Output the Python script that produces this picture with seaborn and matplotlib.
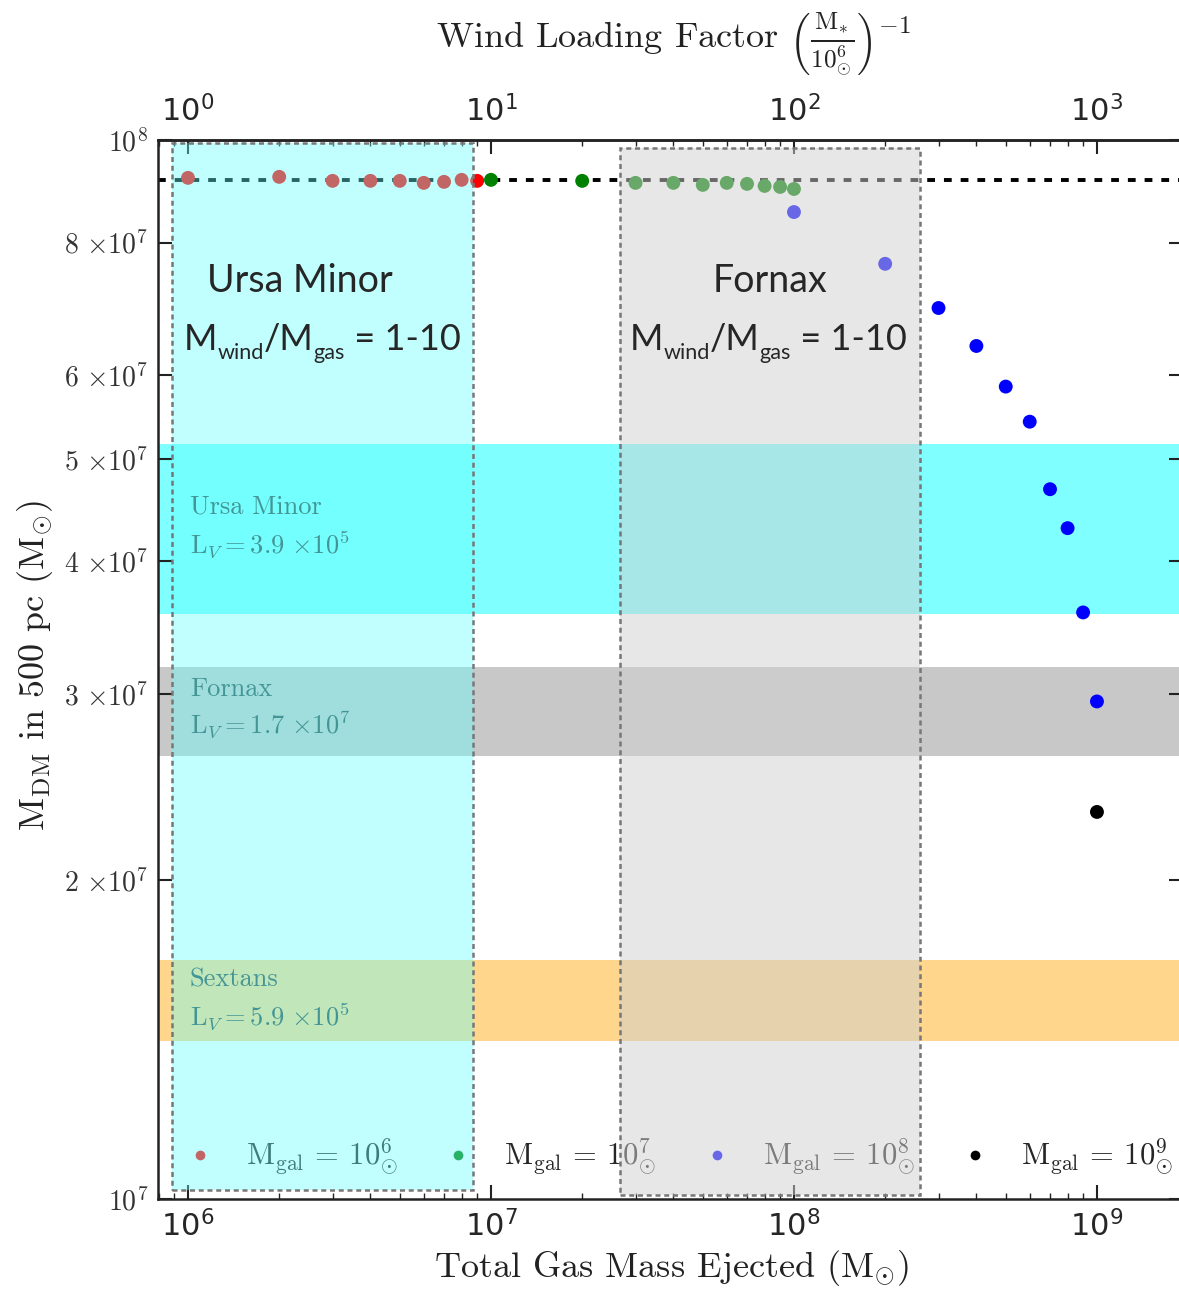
import numpy as np
import pandas as pd
import seaborn as sns
import matplotlib
matplotlib.use("Agg")
import matplotlib.pyplot as plt
from matplotlib.patches import Rectangle
from matplotlib.lines import Line2D
from matplotlib.ticker import LogLocator, NullLocator, NullFormatter

# ---- data -------------------------------------------------------------
# total gas mass ejected (Msun) and dark-matter mass within 500 pc (Msun)
mej_gal6 = [1e6, 2e6, 3e6, 4e6, 5e6, 6e6, 7e6, 8e6, 9e6]
mdm_gal6 = [9.21e7, 9.23e7, 9.15e7, 9.15e7, 9.15e7, 9.11e7, 9.13e7, 9.17e7, 9.15e7]

mej_gal7 = [1e7, 2e7, 3e7, 4e7, 5e7, 6e7, 7e7, 8e7, 9e7, 1e8]
mdm_gal7 = [9.17e7, 9.15e7, 9.11e7, 9.11e7, 9.07e7, 9.11e7, 9.09e7, 9.05e7, 9.03e7, 8.99e7]

mej_gal8 = [1e8, 2e8, 3e8, 4e8, 5e8, 6e8, 7e8, 8e8, 9e8, 1e9]
mdm_gal8 = [8.55e7, 7.64e7, 6.94e7, 6.39e7, 5.85e7, 5.42e7, 4.68e7, 4.30e7, 3.58e7, 2.95e7]

mej_gal9 = [1e9]
mdm_gal9 = [2.32e7]

galaxy_labels = [r"$\mathrm{M_{gal}}$ = $\mathrm{10^{6}_{\odot}}$",
                 r"$\mathrm{M_{gal}}$ = $\mathrm{10^{7}_{\odot}}$",
                 r"$\mathrm{M_{gal}}$ = $\mathrm{10^{8}_{\odot}}$",
                 r"$\mathrm{M_{gal}}$ = $\mathrm{10^{9}_{\odot}}$"]
galaxy_colors = ["#ff0000", "#008000", "#0000ff", "#000000"]

initial_mdm = 9.17e7  # dark-matter mass before any outflow

# observed dwarfs: name, luminosity label, MDM band (low, high), colour, alpha
dwarf_names = ["Ursa Minor", "Fornax", "Sextans"]
dwarf_lv = [r"$\mathrm{L}_V = 3.9\ {\times}10^5$",
            r"$\mathrm{L}_V = 1.7\ {\times}10^7$",
            r"$\mathrm{L}_V = 5.9\ {\times}10^5$"]
dwarf_lo = [3.57e7, 2.62e7, 1.41e7]
dwarf_hi = [5.16e7, 3.18e7, 1.68e7]
dwarf_colors = ["#00ffff", "#808080", "#ffa500"]
dwarf_alpha = [0.5, 0.43, 0.45]

# mass-loading ranges Mwind/Mgas = 1-10 (x: ejected mass, y: MDM extent)
ranges_name = ["Ursa Minor", "Fornax"]
ranges_x = [(8.86e5, 8.72e6), (2.67e7, 2.6e8)]
ranges_y = [(1.02e7, 9.93e7), (1.009e7, 9.83e7)]

xticks = [1e6, 1e7, 1e8, 1e9]
xticklabels = [r"$10^{6}$", r"$10^{7}$", r"$10^{8}$", r"$10^{9}$"]
wticks = [1, 10, 100, 1000]
wticklabels = [r"$10^{0}$", r"$10^{1}$", r"$10^{2}$", r"$10^{3}$"]
yticks = [1e7, 2e7, 3e7, 4e7, 5e7, 6e7, 8e7, 1e8]
yticklabels = [r"$10^{7}$", r"$2\ {\times}10^{7}$", r"$3\ {\times}10^{7}$",
               r"$4\ {\times}10^{7}$", r"$5\ {\times}10^{7}$", r"$6\ {\times}10^{7}$",
               r"$8\ {\times}10^{7}$", r"$10^{8}$"]

# ---- style ------------------------------------------------------------
sns.set_style("ticks")
plt.rcParams["font.family"] = ["cmr10", "DejaVu Sans"]
plt.rcParams["mathtext.fontset"] = "cm"
plt.rcParams["axes.formatter.use_mathtext"] = True
plt.rcParams["axes.unicode_minus"] = False

W, H = 1179, 1292
fig = plt.figure(figsize=(W / 100, H / 100), dpi=100)
fig.patch.set_facecolor("white")
ax = fig.add_axes([158 / W, 1 - 1199 / H, (1183 - 158) / W, (1199 - 140) / H])
ax.set_facecolor("white")
ax.set_xscale("log")
ax.set_yscale("log")
ax.set_xlim(10 ** 5.901, 10 ** 9.284)
ax.set_ylim(1e7, 1e8)

# observed dwarf bands
for lo, hi, c, a in zip(dwarf_lo, dwarf_hi, dwarf_colors, dwarf_alpha):
    ax.axhspan(lo, hi, color=c, alpha=a, lw=0, zorder=0.5)

band_text_y = [(0.6534, 0.6176), (0.4816, 0.4476), (0.2068, 0.1719)]
for name, lv, (y1, y2) in zip(dwarf_names, dwarf_lv, band_text_y):
    ax.text(0.031, y1, name, transform=ax.transAxes, fontsize=19,
            color="#2f4f4f", va="center", ha="left", zorder=1.5)
    ax.text(0.031, y2, lv, transform=ax.transAxes, fontsize=19,
            color="#2f4f4f", va="center", ha="left", zorder=1.5)

# initial dark-matter mass
ax.axhline(initial_mdm, color="k", lw=2.8, dashes=(2.0, 2.3), zorder=1)

# simulation points
frames = []
for xs, ys, lab in zip([mej_gal6, mej_gal7, mej_gal8, mej_gal9],
                       [mdm_gal6, mdm_gal7, mdm_gal8, mdm_gal9], galaxy_labels):
    frames.append(pd.DataFrame({"mej": xs, "mdm": ys, "galaxy": lab}))
df = pd.concat(frames, ignore_index=True)
palette = dict(zip(galaxy_labels, galaxy_colors))
sns.scatterplot(data=df, x="mej", y="mdm", hue="galaxy", palette=palette,
                s=100, edgecolor="none", linewidth=0, legend=False, ax=ax, zorder=3)

handles = [Line2D([], [], ls="none", marker="o", markersize=7, color=c,
                  markeredgewidth=0) for c in galaxy_colors]
leg = ax.legend(handles, galaxy_labels, ncol=4, loc="center left",
                bbox_to_anchor=(0.0263, 0.0397, 0.964, 0.0), mode="expand",
                frameon=False, fontsize=22, handlelength=1.0, handletextpad=1.0,
                borderaxespad=0, borderpad=0, columnspacing=1.0)
leg.set_zorder(3)

# axes, ticks
ax.set_xticks(xticks, xticklabels)
ax.xaxis.set_minor_locator(LogLocator(base=10, subs=np.arange(2, 10), numticks=20))
ax.xaxis.set_minor_formatter(NullFormatter())
ax.set_yticks(yticks, yticklabels)
ax.yaxis.set_minor_locator(NullLocator())
ax.tick_params(axis="x", which="major", direction="in", length=10, width=1.5,
               top=False, bottom=True, labelsize=22, pad=8, color="#222222")
ax.tick_params(axis="x", which="minor", direction="in", length=4, width=1,
               top=False, bottom=True, color="#222222")
ax.tick_params(axis="y", which="major", direction="in", length=10, width=1.5,
               left=True, right=True, labelsize=20, pad=7, color="#222222",
               labelcolor="#333333")
for lbl in ax.get_xticklabels():
    lbl.set_math_fontfamily("dejavusans")
for sp in ax.spines.values():
    sp.set_linewidth(1.8)
    sp.set_color("#222222")

secax = ax.secondary_xaxis("top", functions=(lambda m: m / 1e6, lambda w: w * 1e6))
secax.set_xticks(wticks, wticklabels)
secax.xaxis.set_minor_locator(LogLocator(base=10, subs=np.arange(2, 10), numticks=20))
secax.xaxis.set_minor_formatter(NullFormatter())
secax.tick_params(which="major", direction="in", length=10, width=1.5,
                  labelsize=22, pad=9, color="#222222")
secax.tick_params(which="minor", direction="in", length=4, width=1, color="#222222")
secax.spines["top"].set_linewidth(1.8)
for lbl in secax.get_xticklabels():
    lbl.set_math_fontfamily("dejavusans")

ax.set_xlabel(r"Total Gas Mass Ejected ($\mathrm{M}_{\odot}$)", fontsize=26, color="#222222")
ax.xaxis.set_label_coords(672 / W, 1 - 1268 / H, transform=fig.transFigure)
ax.xaxis.label.set_va("center")
ax.set_ylabel(r"$\mathrm{M_{DM}}$ in 500 pc ($\mathrm{M}_{\odot}$)", fontsize=26, color="#222222")
ax.yaxis.set_label_coords(35 / W, 1 - 665 / H, transform=fig.transFigure)
ax.yaxis.label.set_va("center")
secax.set_xlabel(r"Wind Loading Factor $\left(\frac{\mathrm{M}_{*}}{10^{6}_{\odot}}\right)^{-1}$",
                 fontsize=26, color="#222222")
secax.xaxis.set_label_coords(673 / W, 1 - 44 / H, transform=fig.transFigure)
secax.xaxis.label.set_va("center")

# mass-loading range boxes drawn over the plot
box_faces = [((100 / 255, 1.0, 1.0), 0.4), ("#d0d0d0", 0.5)]
for (x0, x1), (y0, y1), (fc, a) in zip(ranges_x, ranges_y, box_faces):
    ax.add_patch(Rectangle((x0, y0), x1 - x0, y1 - y0, facecolor=fc, alpha=a,
                           edgecolor="none", zorder=6))
    ax.add_patch(Rectangle((x0, y0), x1 - x0, y1 - y0, fill=False,
                           edgecolor="#777777", lw=1.8, ls=(0, (2, 1.5)), zorder=6.5))


def rich_line(x_px, base_px, parts, fs):
    """Draw text runs side by side on one baseline; subscripts are smaller and lowered."""
    yb = 1 - base_px / H
    last = None
    for txt, sub in parts:
        size = fs * 0.6 if sub else fs
        dy = -9 if sub else 0
        if last is None:
            last = fig.text(x_px / W, yb, txt, fontsize=size, family="Lato",
                            va="baseline", ha="left", zorder=10)
        else:
            last = ax.annotate(txt, xy=(1, yb), xycoords=(last, "figure fraction"),
                               xytext=(0, dy), textcoords="offset pixels",
                               fontsize=size, family="Lato", va="baseline",
                               ha="left", zorder=10, annotation_clip=False)


loading_parts = [("M", False), ("wind", True), ("/M", False), ("gas", True), (" = 1-10", False)]
title_pos = [(300, 292), (770, 292)]
line_pos = [(184, 350), (630, 350)]
for name, (cx, by), (lx, lb) in zip(ranges_name, title_pos, line_pos):
    fig.text(cx / W, 1 - by / H, name, fontsize=27, family="Lato",
             ha="center", va="baseline", zorder=10)
    rich_line(lx, lb, loading_parts, 26)

fig.savefig("out.png", dpi=100, facecolor="white")
